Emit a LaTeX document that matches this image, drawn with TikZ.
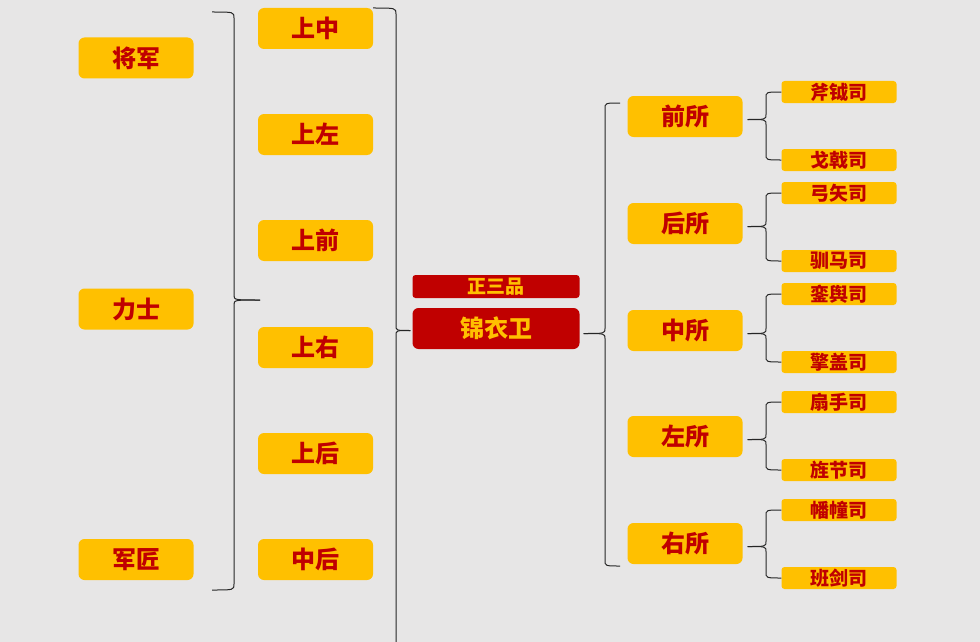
\documentclass[tikz,border=0pt]{standalone}
\usepackage{fontspec}
\newfontfamily\cjk{Noto Sans CJK SC}
\usetikzlibrary{calc}
\definecolor{bg}{HTML}{E7E6E6}
\definecolor{gold}{HTML}{FFC000}
\definecolor{crimson}{HTML}{C00000}
\tikzset{
  rank/.style={fill=gold, text=crimson, rounded corners=6pt, minimum width=115pt,
    minimum height=41pt, inner sep=0pt, font=\cjk\bfseries\fontsize{24}{26}\selectfont},
  office/.style={rank, rounded corners=3pt, minimum height=22pt,
    font=\cjk\bfseries\fontsize{19}{21}\selectfont},
  head/.style={rank, fill=crimson, text=gold, minimum width=167pt},
  curly/.style={line width=1pt, black!85, line join=round},
}
% #1 top end, #2 bottom end, #3 tip, #4 x of the spine
\newcommand{\curlyb}[4]{%
  \draw[curly] (#1) .. controls (#1 -| #4) .. ($(#1 -| #4)+(0,6)$)
    -- ($(#3 -| #4)+(0,-5)$) .. controls (#3 -| #4) .. (#3);
  \draw[curly] (#2) .. controls (#2 -| #4) .. ($(#2 -| #4)+(0,-6)$)
    -- ($(#3 -| #4)+(0,5)$) .. controls (#3 -| #4) .. (#3);}
\begin{document}
\begin{tikzpicture}[x=1pt, y=-1pt]
\useasboundingbox[fill=bg] (0,0) rectangle (980,642);
\clip (0,0) rectangle (980,642);
% left column
\node[rank] (jiangjun) at (136,58) {将军};
\node[rank] (lishi) at (136,309) {力士};
\node[rank] (junjiang) at (136,559.5) {军匠};
% second column
\foreach \n/\y/\t in {1/28.5/上中, 2/134.5/上左, 3/240.5/上前, 4/347.5/上右, 5/453.5/上后, 6/559.5/中后}
  \node[rank] (s\n) at (315.5,\y) {\t};
% centre
\node[head, minimum height=23pt, rounded corners=3pt, font=\cjk\bfseries\fontsize{19}{21}\selectfont] (pin) at (496,286.5) {正三品};
\node[head] (jyw) at (496,328.5) {锦衣卫};
% the five suo and their si
\foreach \n/\y/\t/\ya/\ta/\yb/\tb in {1/116.5/前所/92/斧钺司/160/戈戟司,
    2/223.5/后所/193/弓矢司/261/驯马司, 3/330.5/中所/294/銮舆司/362/擎盖司,
    4/436.5/左所/402/扇手司/470/旌节司, 5/543.5/右所/510/幡幢司/578/班剑司} {
  \node[rank] (q\n) at (685,\y) {\t};
  \node[office] (a\n) at (839,\ya) {\ta};
  \node[office] (b\n) at (839,\yb) {\tb};
}
% braces
\coordinate (lt) at (212,12);
\coordinate (lb) at (212,590);
\coordinate (ltip) at (260,300);
\coordinate (lv) at (234,0);
\curlyb{lt}{lb}{ltip}{lv}
\coordinate (mt) at (373,8);
\coordinate (mb) at (373,654);
\coordinate (mtip) at ($(jyw.west)+(-2,2)$);
\coordinate (mv) at (396,0);
\curlyb{mt}{mb}{mtip}{mv}
\coordinate (rt) at (620,103);
\coordinate (rb) at (620,566);
\coordinate (rtip) at ($(jyw.east)+(4,5)$);
\coordinate (rv) at (605,0);
\curlyb{rt}{rb}{rtip}{rv}
\coordinate (sv) at (766,0);
\foreach \n in {1,...,5} {
  \coordinate (t\n) at ($(q\n.east)+(5,3)$);
  \curlyb{a\n.west}{b\n.west}{t\n}{sv}
}
\end{tikzpicture}
\end{document}
